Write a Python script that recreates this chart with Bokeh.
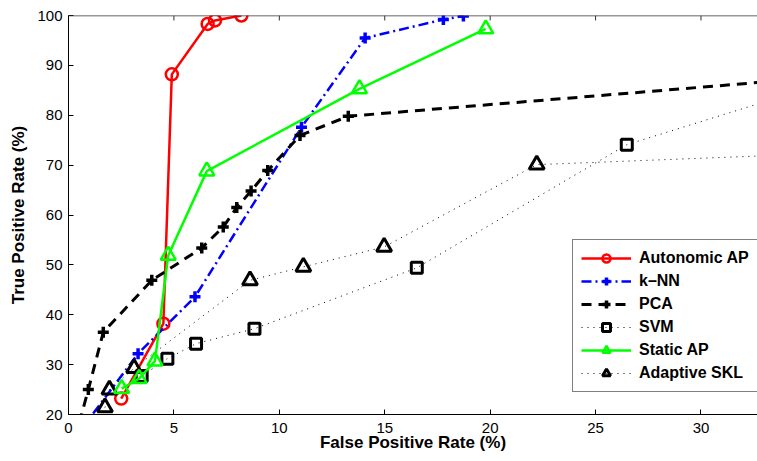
from bokeh.plotting import figure
from bokeh.models import Range1d, FixedTicker, Legend, LegendItem, Span
from bokeh.embed import file_html
from bokeh.resources import INLINE

# ---- data ----
auto_fpr = [2.5, 4.5, 4.9, 6.6, 6.95, 8.2]
auto_tpr = [23.2, 38.2, 88.2, 98.3, 99.0, 100.0]

knn_fpr = [0.6, 3.3, 6.0, 11.05, 14.07, 17.78, 18.73]
knn_tpr = [17.0, 32.2, 43.6, 77.6, 95.5, 99.2, 99.9]

pca_fpr = [0.3, 0.94, 1.65, 3.95, 6.32, 7.34, 7.98, 8.66, 9.45, 10.98, 13.27, 40.0]
pca_tpr = [15.0, 25.0, 36.5, 46.9, 53.4, 57.6, 61.5, 64.8, 68.9, 75.95, 79.8, 89.1]

svm_fpr = [3.47, 4.69, 6.05, 8.82, 16.52, 26.48, 35.0]
svm_tpr = [27.7, 31.2, 34.2, 37.2, 49.4, 74.1, 85.3]

static_fpr = [2.52, 3.35, 4.1, 4.73, 6.56, 13.8, 19.79]
static_tpr = [25.2, 27.2, 30.7, 51.9, 68.8, 85.3, 97.3]

skl_fpr = [1.73, 1.94, 3.11, 8.61, 11.14, 14.97, 22.21, 35.0]
skl_tpr = [21.4, 25.0, 29.3, 46.9, 49.6, 53.6, 70.1, 72.2]

x_ticks = [0, 5, 10, 15, 20, 25, 30]
y_ticks = [20, 30, 40, 50, 60, 70, 80, 90, 100]
Y_TOP = 100
TOP_TICK_LEN = 1.0  # in data units (about 5 px)

FONT = "Liberation Sans"

p = figure(width=757, height=461, output_backend="svg", toolbar_location=None,
           x_range=Range1d(0, 32.68), y_range=Range1d(20, Y_TOP),
           min_border_left=68, min_border_right=0, min_border_top=15,
           min_border_bottom=47)
p.outline_line_color = None
p.xgrid.visible = False
p.ygrid.visible = False
p.background_fill_color = "white"

for ax in (p.xaxis[0], p.yaxis[0]):
    ax.major_tick_in = 5
    ax.major_tick_out = 0
    ax.minor_tick_in = 0
    ax.minor_tick_out = 0
    ax.axis_line_color = "black"
    ax.major_tick_line_color = "black"
    ax.major_label_text_font = FONT
    ax.major_label_text_font_size = "15px"
    ax.major_label_text_color = "black"
    ax.axis_label_text_font = FONT
    ax.axis_label_text_font_size = "17px"
    ax.axis_label_text_font_style = "bold"
    ax.axis_label_text_color = "black"

p.xaxis[0].ticker = FixedTicker(ticks=x_ticks)
p.yaxis[0].ticker = FixedTicker(ticks=y_ticks)
p.xaxis[0].axis_label = "False Positive Rate (%)"
p.yaxis[0].axis_label = "True Positive Rate (%)"
p.xaxis[0].major_label_standoff = 8
p.xaxis[0].axis_label_standoff = -3
p.yaxis[0].major_label_standoff = 6
p.yaxis[0].axis_label_standoff = 6

# top box edge with inward ticks (MATLAB "box on")
p.add_layout(Span(location=Y_TOP, dimension="width", line_color="#333333", line_width=1.5))
p.segment(x0=x_ticks, x1=x_ticks, y0=[Y_TOP] * len(x_ticks),
          y1=[Y_TOP - TOP_TICK_LEN] * len(x_ticks), line_color="#333333", line_width=1)

r1 = p.line(auto_fpr, auto_tpr, line_color="red", line_width=2.5)
r1m = p.scatter(auto_fpr, auto_tpr, marker="circle", size=12, line_color="red",
                line_width=2.5, fill_color=None)

r2 = p.line(knn_fpr, knn_tpr, line_color="blue", line_width=2.5, line_dash="10 4 2 4")
r2m = p.scatter(knn_fpr, knn_tpr, marker="cross", size=11, line_color="blue", line_width=3.5)

r3 = p.line(pca_fpr, pca_tpr, line_color="black", line_width=3, line_dash="10 7")
r3m = p.scatter(pca_fpr, pca_tpr, marker="cross", size=11, line_color="black", line_width=3.5)

r4 = p.line(svm_fpr, svm_tpr, line_color="black", line_width=1, line_dash="1 5")
r4m = p.scatter(svm_fpr, svm_tpr, marker="square", size=11, line_color="black",
                line_width=3, fill_color=None)

r6 = p.line(skl_fpr, skl_tpr, line_color="black", line_width=1, line_dash="1 5")
r6m = p.scatter(skl_fpr, skl_tpr, marker="triangle", size=15, line_color="black",
                line_width=3, fill_color=None)

r5 = p.line(static_fpr, static_tpr, line_color="#00ff00", line_width=2.5)
r5m = p.scatter(static_fpr, static_tpr, marker="triangle", size=15, line_color="#00ff00",
                line_width=2.5, fill_color=None)

legend = Legend(items=[
    LegendItem(label="Autonomic AP", renderers=[r1, r1m]),
    LegendItem(label="k\u2013NN", renderers=[r2, r2m]),
    LegendItem(label="PCA", renderers=[r3, r3m]),
    LegendItem(label="SVM", renderers=[r4, r4m]),
    LegendItem(label="Static AP", renderers=[r5, r5m]),
    LegendItem(label="Adaptive SKL", renderers=[r6, r6m]),
], location=(504, 22))
legend.label_text_font = FONT
legend.label_text_font_size = "16px"
legend.label_text_font_style = "bold"
legend.label_text_color = "black"
legend.glyph_width = 50
legend.glyph_height = 20
legend.label_height = 20
legend.label_standoff = 8
legend.spacing = 3
legend.padding = 8
legend.margin = 0
legend.border_line_color = "black"
legend.border_line_width = 1.5
legend.background_fill_color = "white"
legend.background_fill_alpha = 1
p.add_layout(legend, "center")

open("out.html", "w").write(file_html(p, INLINE))
